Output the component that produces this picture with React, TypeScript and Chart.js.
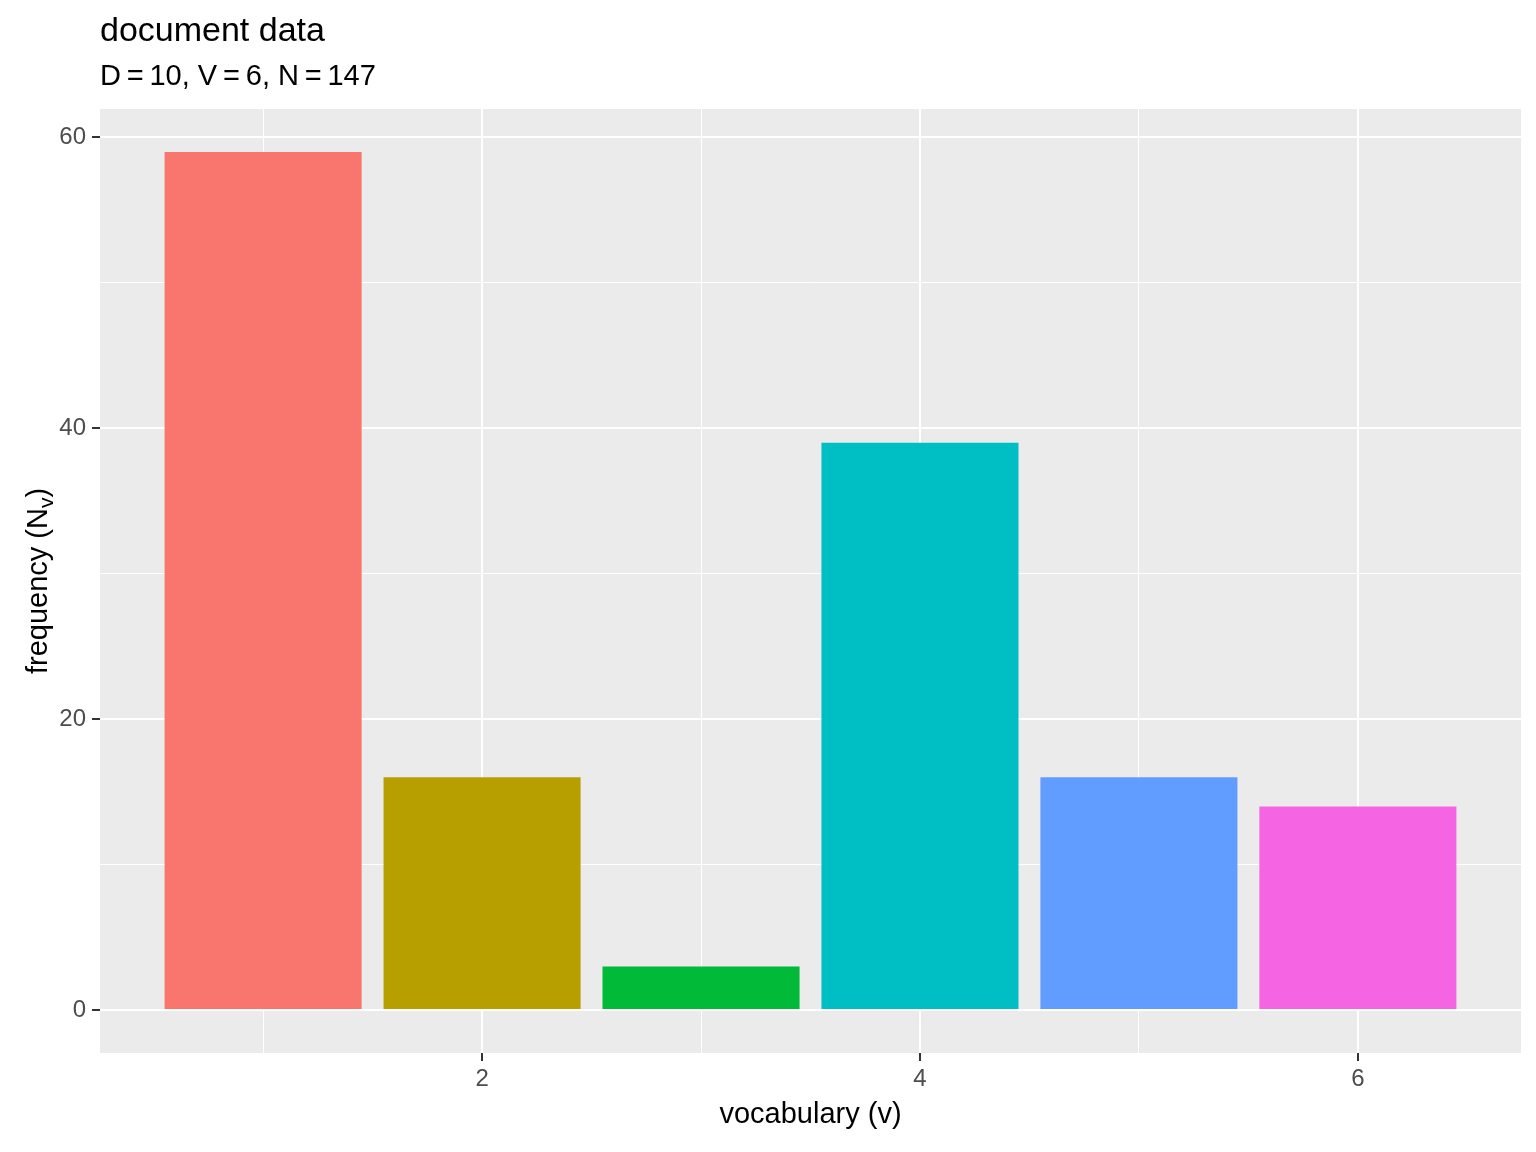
import React, { useEffect, useRef } from 'react';
import { Chart, registerables } from 'chart.js';

Chart.register(...registerables);

// data
const vocabulary = [1, 2, 3, 4, 5, 6];
const frequency = [59, 16, 3, 39, 16, 14];
const barColors = ['#F8766D', '#B79F00', '#00BA38', '#00BFC4', '#619CFF', '#F564E3'];
const xGridTicks = [1, 2, 3, 4, 5, 6];
const xLabelTicks = [2, 4, 6];
const yGridTicks = [0, 10, 20, 30, 40, 50, 60];
const yLabelTicks = [0, 20, 40, 60];

const titleText = 'document data';
const subtitleText = 'D\u2009=\u200910, V\u2009=\u20096, N\u2009=\u2009147';
const xTitle = 'vocabulary (v)';

const FONT = '"Liberation Sans", Arial, sans-serif';

// ggplot-style 5% expansion around the bars (width 0.9)
const xLo = Math.min(...vocabulary) - 0.45;
const xHi = Math.max(...vocabulary) + 0.45;
const xPad = (xHi - xLo) * 0.05;
const yHi = Math.max(...frequency);
const yPad = yHi * 0.05;

const ggPlugin = {
  id: 'ggText',
  beforeDraw(chart: Chart) {
    const { ctx, chartArea } = chart;
    ctx.save();
    ctx.fillStyle = '#EBEBEB';
    ctx.fillRect(chartArea.left, chartArea.top, chartArea.right - chartArea.left, chartArea.bottom - chartArea.top);
    ctx.restore();
  },
  afterDraw(chart: Chart) {
    const { ctx, chartArea } = chart;
    ctx.save();
    ctx.fillStyle = '#000000';
    ctx.textBaseline = 'alphabetic';
    ctx.textAlign = 'left';
    ctx.font = `34px ${FONT}`;
    ctx.fillText(titleText, chartArea.left, 41);
    ctx.font = `29px ${FONT}`;
    ctx.fillText(subtitleText, chartArea.left, 85);

    ctx.textAlign = 'center';
    ctx.fillText(xTitle, (chartArea.left + chartArea.right) / 2, 1123);

    // y title with subscript
    const cy = (chartArea.top + chartArea.bottom) / 2;
    ctx.translate(47, cy);
    ctx.rotate(-Math.PI / 2);
    ctx.textAlign = 'left';
    const partA = 'frequency (N';
    const partB = 'v';
    const partC = ')';
    ctx.font = `29px ${FONT}`;
    const wA = ctx.measureText(partA).width;
    const wC = ctx.measureText(partC).width;
    ctx.font = `21px ${FONT}`;
    const wB = ctx.measureText(partB).width;
    let x = -(wA + wB + wC) / 2;
    ctx.font = `29px ${FONT}`;
    ctx.fillText(partA, x, 0);
    x += wA;
    ctx.font = `21px ${FONT}`;
    ctx.fillText(partB, x, 6);
    x += wB;
    ctx.font = `29px ${FONT}`;
    ctx.fillText(partC, x, 0);
    ctx.restore();
  },
};

const App: React.FC = () => {
  const chartRef = useRef<HTMLCanvasElement>(null);
  const chartInstanceRef = useRef<Chart | null>(null);

  useEffect(() => {
    document.body.style.margin = '0';
    if (chartRef.current) {
      if (chartInstanceRef.current) {
        chartInstanceRef.current.destroy();
      }
      const ctx = chartRef.current.getContext('2d');
      if (ctx) {
        chartInstanceRef.current = new Chart(ctx, {
          type: 'bar',
          data: {
            datasets: [{
              data: vocabulary.map((v, i) => ({ x: v, y: frequency[i] })),
              backgroundColor: barColors,
              borderWidth: 0,
              inflateAmount: 0,
              barPercentage: 0.9,
              categoryPercentage: 1,
            }]
          },
          options: {
            animation: false,
            responsive: true,
            maintainAspectRatio: false,
            devicePixelRatio: 1,
            layout: { padding: { top: 109, right: 15, left: 0, bottom: 0 } },
            scales: {
              x: {
                type: 'linear',
                min: xLo - xPad,
                max: xHi + xPad,
                offset: false,
                afterBuildTicks: (scale: any) => {
                  scale.ticks = xGridTicks.map((value) => ({ value }));
                },
                afterFit: (scale: any) => { scale.height = 99; },
                grid: {
                  offset: false,
                  color: '#FFFFFF',
                  lineWidth: (c: any) => (xLabelTicks.includes(c.tick?.value) ? 2 : 1),
                  tickColor: (c: any) => (xLabelTicks.includes(c.tick?.value) ? '#333333' : 'rgba(0,0,0,0)'),
                  tickWidth: 2,
                  tickLength: 8,
                  drawTicks: true,
                },
                border: { display: false },
                ticks: {
                  autoSkip: false,
                  maxRotation: 0,
                  color: '#4D4D4D',
                  font: { size: 24, family: FONT },
                  padding: 4,
                  callback: (value: any) => (xLabelTicks.includes(Number(value)) ? String(value) : ''),
                },
              },
              y: {
                type: 'linear',
                min: -yPad,
                max: yHi + yPad,
                afterBuildTicks: (scale: any) => {
                  scale.ticks = yGridTicks.map((value) => ({ value }));
                },
                afterFit: (scale: any) => { scale.width = 100; },
                grid: {
                  color: '#FFFFFF',
                  lineWidth: (c: any) => (yLabelTicks.includes(c.tick?.value) ? 2 : 1),
                  tickColor: (c: any) => (yLabelTicks.includes(c.tick?.value) ? '#333333' : 'rgba(0,0,0,0)'),
                  tickWidth: 2,
                  tickLength: 8,
                  drawTicks: true,
                },
                border: { display: false },
                ticks: {
                  autoSkip: false,
                  color: '#4D4D4D',
                  font: { size: 24, family: FONT },
                  padding: 6,
                  callback: (value: any) => (yLabelTicks.includes(Number(value)) ? String(value) : ''),
                },
              },
            },
            plugins: {
              legend: { display: false },
              tooltip: { enabled: false },
            },
          },
          plugins: [ggPlugin],
        });
      }
    }
    return () => {
      if (chartInstanceRef.current) {
        chartInstanceRef.current.destroy();
        chartInstanceRef.current = null;
      }
    };
  }, []);

  return (
    <div style={{ width: '1536px', height: '1152px', position: 'relative', background: '#FFFFFF' }}>
      <canvas ref={chartRef}></canvas>
    </div>
  );
};

export default App;
